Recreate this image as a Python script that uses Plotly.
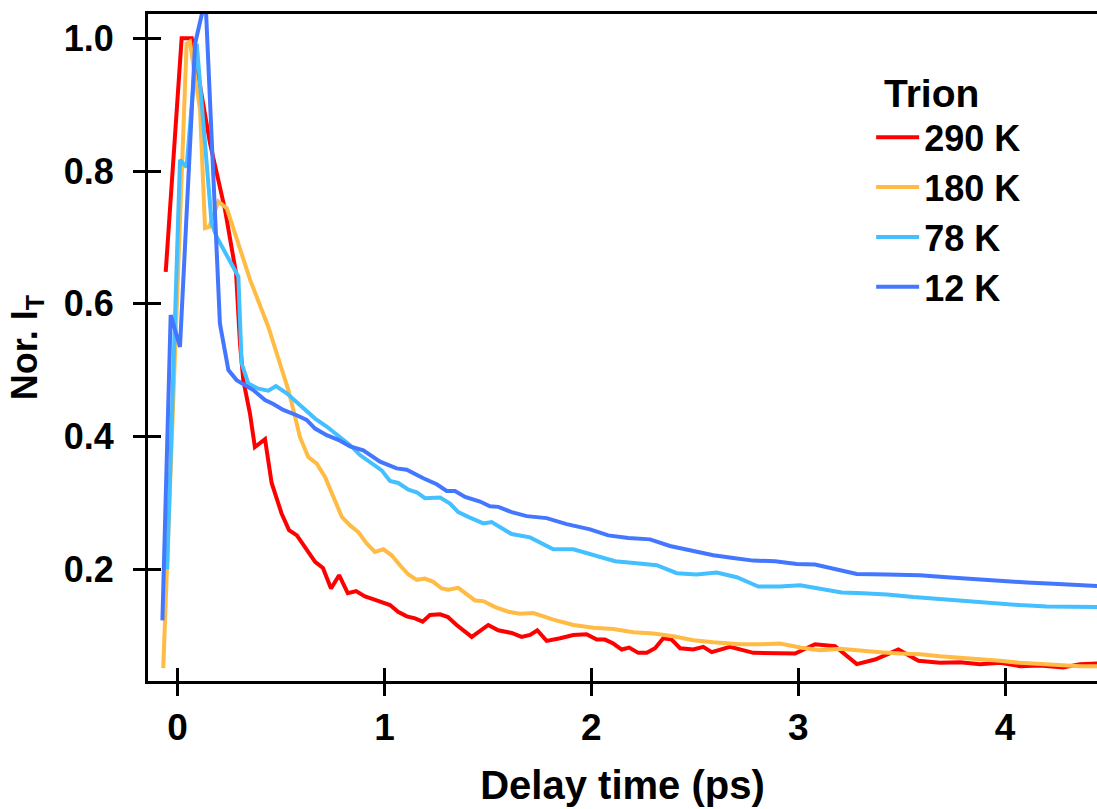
import plotly.graph_objects as go

# ---- data (delay time in ps, normalized trion intensity) ----
t_290 = [-0.057, 0.020, 0.069, 0.157, 0.230, 0.283, 0.302, 0.318, 0.350, 0.374, 0.423, 0.455, 0.503, 0.539,
         0.577, 0.624, 0.665, 0.703, 0.742, 0.781, 0.823, 0.863, 0.906, 0.945, 0.987, 1.027, 1.066, 1.108,
         1.148, 1.185, 1.220, 1.269, 1.307, 1.349, 1.422, 1.502, 1.550, 1.615, 1.663, 1.704, 1.739, 1.784,
         1.849, 1.913, 1.977, 2.026, 2.066, 2.106, 2.147, 2.183, 2.227, 2.268, 2.308, 2.348, 2.388, 2.429,
         2.493, 2.541, 2.582, 2.622, 2.670, 2.783, 2.880, 2.985, 3.081, 3.178, 3.283, 3.371, 3.484, 3.581,
         3.685, 3.782, 3.879, 3.975, 4.072, 4.168, 4.281, 4.362, 4.444, 4.5]
v_290 = [0.648, 1.000, 1.000, 0.842, 0.741, 0.646, 0.540, 0.485, 0.435, 0.384, 0.396, 0.330, 0.284, 0.259,
         0.251, 0.229, 0.211, 0.202, 0.171, 0.191, 0.164, 0.167, 0.159, 0.155, 0.151, 0.146, 0.136, 0.129,
         0.126, 0.121, 0.131, 0.132, 0.128, 0.116, 0.098, 0.116, 0.108, 0.104, 0.098, 0.101, 0.108, 0.092,
         0.096, 0.101, 0.102, 0.094, 0.094, 0.088, 0.079, 0.082, 0.074, 0.074, 0.081, 0.096, 0.094, 0.081,
         0.079, 0.083, 0.075, 0.079, 0.083, 0.074, 0.073, 0.073, 0.087, 0.084, 0.057, 0.064, 0.079, 0.062,
         0.059, 0.060, 0.057, 0.059, 0.054, 0.055, 0.052, 0.057, 0.058, 0.058]

t_180 = [-0.069, 0.044, 0.060, 0.109, 0.133, 0.154, 0.197, 0.238, 0.351, 0.439, 0.495, 0.536, 0.568, 0.592,
         0.632, 0.673, 0.713, 0.753, 0.794, 0.834, 0.874, 0.914, 0.954, 0.995, 1.035, 1.075, 1.116, 1.156,
         1.196, 1.236, 1.277, 1.309, 1.357, 1.438, 1.478, 1.535, 1.599, 1.655, 1.720, 1.816, 1.913, 2.010,
         2.106, 2.203, 2.300, 2.396, 2.493, 2.590, 2.719, 2.815, 2.912, 3.009, 3.105, 3.202, 3.299, 3.396,
         3.492, 3.589, 3.685, 3.782, 3.879, 3.975, 4.072, 4.168, 4.265, 4.362, 4.444, 4.5]
v_180 = [0.051, 0.992, 0.995, 0.892, 0.714, 0.716, 0.754, 0.744, 0.636, 0.565, 0.510, 0.470, 0.430, 0.399,
         0.369, 0.359, 0.339, 0.309, 0.279, 0.266, 0.256, 0.239, 0.226, 0.230, 0.221, 0.206, 0.192, 0.184,
         0.186, 0.181, 0.171, 0.169, 0.172, 0.153, 0.152, 0.143, 0.136, 0.133, 0.134, 0.124, 0.116, 0.112,
         0.110, 0.105, 0.103, 0.099, 0.093, 0.090, 0.087, 0.087, 0.088, 0.082, 0.078, 0.080, 0.077, 0.075,
         0.073, 0.072, 0.069, 0.067, 0.064, 0.062, 0.059, 0.057, 0.055, 0.054, 0.054, 0.054]

t_78 = [-0.050, 0.012, 0.044, 0.093, 0.165, 0.189, 0.294, 0.310, 0.342, 0.391, 0.439, 0.476, 0.528, 0.592,
        0.665, 0.721, 0.785, 0.834, 0.882, 0.939, 0.987, 1.027, 1.067, 1.116, 1.156, 1.196, 1.269, 1.317,
        1.357, 1.405, 1.478, 1.518, 1.615, 1.704, 1.816, 1.913, 2.010, 2.115, 2.219, 2.316, 2.413, 2.509,
        2.606, 2.703, 2.807, 2.912, 3.009, 3.105, 3.210, 3.315, 3.428, 3.556, 3.685, 3.814, 3.943, 4.072,
        4.201, 4.330, 4.444, 4.5]
v_78 = [0.200, 0.817, 0.806, 0.992, 0.721, 0.701, 0.641, 0.510, 0.480, 0.472, 0.469, 0.476, 0.465, 0.447,
        0.427, 0.415, 0.399, 0.387, 0.372, 0.360, 0.349, 0.333, 0.330, 0.320, 0.316, 0.307, 0.308, 0.299,
        0.286, 0.279, 0.269, 0.271, 0.253, 0.248, 0.230, 0.230, 0.221, 0.212, 0.209, 0.206, 0.194, 0.192,
        0.195, 0.188, 0.174, 0.174, 0.176, 0.171, 0.165, 0.164, 0.162, 0.158, 0.155, 0.152, 0.148, 0.146,
        0.144, 0.144, 0.143, 0.142]

t_12 = [-0.073, -0.033, 0.012, 0.085, 0.135, 0.205, 0.246, 0.286, 0.366, 0.423, 0.463, 0.511, 0.576, 0.624,
        0.665, 0.721, 0.777, 0.834, 0.898, 0.979, 1.059, 1.108, 1.188, 1.253, 1.301, 1.341, 1.390, 1.462,
        1.510, 1.551, 1.615, 1.688, 1.784, 1.881, 1.994, 2.082, 2.179, 2.284, 2.380, 2.493, 2.590, 2.686,
        2.783, 2.888, 2.993, 3.081, 3.186, 3.283, 3.428, 3.589, 3.718, 3.846, 3.975, 4.104, 4.233, 4.362,
        4.444, 4.5]
v_12 = [0.123, 0.583, 0.535, 0.992, 1.060, 0.570, 0.500, 0.485, 0.470, 0.455, 0.449, 0.440, 0.432, 0.425,
        0.412, 0.402, 0.395, 0.385, 0.379, 0.362, 0.352, 0.350, 0.337, 0.328, 0.318, 0.318, 0.309, 0.302,
        0.295, 0.294, 0.286, 0.280, 0.277, 0.268, 0.260, 0.251, 0.247, 0.245, 0.235, 0.227, 0.221, 0.217,
        0.213, 0.212, 0.208, 0.207, 0.199, 0.193, 0.192, 0.191, 0.188, 0.185, 0.183, 0.180, 0.178, 0.176,
        0.175, 0.174]

names = ["290 K", "180 K", "78 K", "12 K"]
colors = ["#FF0000", "#FFBB44", "#44BFFF", "#4477FF"]
x_ticks = [0, 1, 2, 3, 4]
y_ticks = [0.2, 0.4, 0.6, 0.8, 1.0]
y_ticklabels = ["0.2", "0.4", "0.6", "0.8", "1.0"]
x_range = [-0.1426, 4.444]
y_range = [0.0316, 1.0366]

fig = go.Figure()
for name, t, v, c in zip(names, [t_290, t_180, t_78, t_12], [v_290, v_180, v_78, v_12], colors):
    fig.add_trace(go.Scatter(x=t, y=v, mode="lines", name=name,
                             line=dict(color=c, width=4)))

# empty trace registering the overlay axes (inner half of crossing ticks)
fig.add_trace(go.Scatter(x=[], y=[], xaxis="x2", yaxis="y2", showlegend=False, hoverinfo="skip"))

FONT = "Liberation Sans, Arial, sans-serif"
axis_common = dict(showgrid=False, zeroline=False, tickcolor="black", tickwidth=3)

fig.update_layout(
    width=1097, height=809,
    margin=dict(l=148, r=0, t=14, b=128, pad=0),
    plot_bgcolor="white", paper_bgcolor="white",
    font=dict(family=FONT, color="black", size=36, weight="bold"),
    showlegend=True,
    xaxis=dict(range=x_range, tickvals=x_ticks, showline=True, linecolor="black", linewidth=3,
               mirror=True, ticks="outside", ticklen=12,
               tickfont=dict(size=37, family=FONT, weight="bold"),
               title=dict(text="Delay time (ps)", font=dict(size=40, family=FONT, weight="bold"),
                          standoff=24),
               **axis_common),
    yaxis=dict(range=y_range, tickvals=y_ticks, ticktext=y_ticklabels, showline=True,
               linecolor="black", linewidth=3, ticks="outside", ticklen=12,
               tickfont=dict(size=36, family=FONT, weight="bold"), ticklabelstandoff=12,
               title=dict(text="Nor. I<sub>T</sub>", font=dict(size=36, family=FONT, weight="bold"),
                          standoff=16),
               **axis_common),
    xaxis2=dict(range=x_range, tickvals=x_ticks, overlaying="x", anchor="y2", side="bottom",
                ticks="inside", ticklen=13, showticklabels=False, showline=False, **axis_common),
    yaxis2=dict(range=y_range, tickvals=y_ticks, overlaying="y", anchor="x2", side="left",
                ticks="inside", ticklen=13, showticklabels=False, showline=False, **axis_common),
    legend=dict(x=0.762, y=0.936, xanchor="left", yanchor="top", bgcolor="rgba(0,0,0,0)",
                borderwidth=0, itemwidth=43, tracegroupgap=0,
                font=dict(size=36, family=FONT, weight="bold"),
                title=dict(text="&nbsp;Trion", side="top", font=dict(size=39, family=FONT, weight="bold"))),
)

fig.write_html("out.html")
